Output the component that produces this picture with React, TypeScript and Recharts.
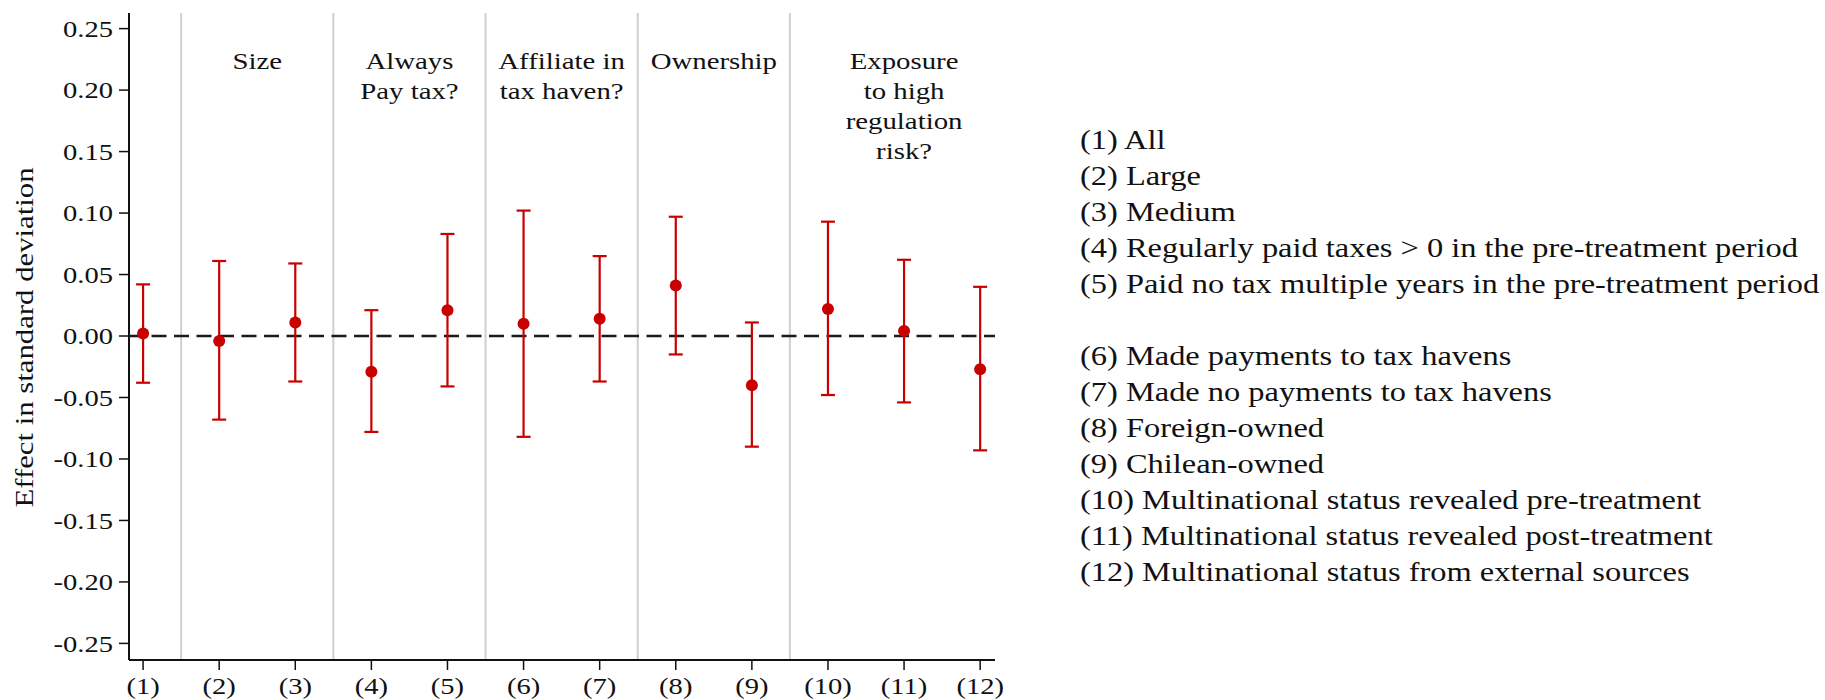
import React from "react";
import {
  ComposedChart,
  Scatter,
  ErrorBar,
  XAxis,
  YAxis,
  ReferenceLine,
} from "recharts";

// estimates and 95% CI bounds
const categories = ["(1)", "(2)", "(3)", "(4)", "(5)", "(6)", "(7)", "(8)", "(9)", "(10)", "(11)", "(12)"];
const estimates = [0.002, -0.004, 0.011, -0.029, 0.021, 0.01, 0.014, 0.041, -0.04, 0.022, 0.004, -0.027];
const upper = [0.042, 0.061, 0.059, 0.021, 0.083, 0.102, 0.065, 0.097, 0.011, 0.093, 0.062, 0.04];
const lower = [-0.038, -0.068, -0.037, -0.078, -0.041, -0.082, -0.037, -0.015, -0.09, -0.048, -0.054, -0.093];

const yTicks = [-0.25, -0.2, -0.15, -0.1, -0.05, 0, 0.05, 0.1, 0.15, 0.2, 0.25];
const separators = [1.5, 3.5, 5.5, 7.5, 9.5];
const groupCenters = [2.5, 4.5, 6.5, 8.5, 11];
const groupLabels = [
  ["Size"],
  ["Always", "Pay tax?"],
  ["Affiliate in", "tax haven?"],
  ["Ownership"],
  ["Exposure", "to high", "regulation", "risk?"],
];

const legendItems = [
  "(1) All",
  "(2) Large",
  "(3) Medium",
  "(4) Regularly paid taxes > 0 in the pre-treatment period",
  "(5) Paid no tax multiple years in the pre-treatment period",
  "",
  "(6) Made payments to tax havens",
  "(7) Made no payments to tax havens",
  "(8) Foreign-owned",
  "(9) Chilean-owned",
  "(10) Multinational status revealed pre-treatment",
  "(11) Multinational status revealed post-treatment",
  "(12) Multinational status from external sources",
];

const data = categories.map((c, i) => ({
  x: i + 1,
  y: estimates[i],
  err: [estimates[i] - lower[i], upper[i] - estimates[i]],
}));

const RED = "#c80000";
const FONT = "Liberation Serif";
const SX = 1.19; // widen Times-like glyphs towards the original schoolbook face
const xDomain = [0.815, 12.195];
const yDomain = [-0.2635, 0.2627];

// text stretched horizontally around its anchor point
const StretchText = ({ x, y, anchor, dy, size, sx, rotate, children }: any) => (
  <g transform={`translate(${x},${y})${rotate ? ` rotate(${rotate})` : ""} scale(${sx},1)`}>
    <text x={0} y={0} dy={dy} textAnchor={anchor} fontFamily={FONT} fontSize={size} fill="#111">
      {children}
    </text>
  </g>
);

const XTick = ({ x, y, payload }: any) => (
  <StretchText x={x} y={y} anchor="middle" dy="0.71em" size={24} sx={SX}>
    {categories[payload.value - 1]}
  </StretchText>
);

const YTick = ({ x, y, payload }: any) => (
  <StretchText x={x} y={y} anchor="end" dy="0.34em" size={24} sx={SX}>
    {payload.value.toFixed(2)}
  </StretchText>
);

const YLabel = ({ viewBox }: any) => {
  const cy = viewBox ? viewBox.y + viewBox.height / 2 : 338;
  return (
    <StretchText x={33} y={cy + 1} anchor="middle" size={25} sx={1.23} rotate={-90}>
      Effect in standard deviation
    </StretchText>
  );
};

const GroupLabel = ({ viewBox, lines }: any) => (
  <g>
    {lines.map((l: string, i: number) => (
      <StretchText key={i} x={viewBox.x} y={viewBox.y + 56 + i * 30} anchor="middle" size={24} sx={1.2}>
        {l}
      </StretchText>
    ))}
  </g>
);

const Dot = (props: any) => <circle cx={props.cx} cy={props.cy} r={6} fill={RED} />;

export default function App() {
  return (
    <div style={{ position: "absolute", left: 0, top: 0, width: 1825, height: 700, background: "#fff" }}>
      <ComposedChart
        width={1825}
        height={700}
        data={data}
        margin={{ top: 13, right: 830, bottom: 0, left: 0 }}
      >
        <XAxis
          dataKey="x"
          type="number"
          domain={xDomain}
          allowDataOverflow
          ticks={categories.map((c, i) => i + 1)}
          interval={0}
          height={40}
          tickSize={10}
          tickMargin={7}
          tick={<XTick />}
          axisLine={{ stroke: "#111", strokeWidth: 2 }}
          tickLine={{ stroke: "#111", strokeWidth: 1.5 }}
        />
        <XAxis
          xAxisId="top"
          orientation="top"
          type="number"
          domain={xDomain}
          allowDataOverflow
          height={0}
          tick={false}
          tickLine={false}
          axisLine={{ stroke: "#222", strokeWidth: 2 }}
        />
        <YAxis
          type="number"
          domain={yDomain}
          allowDataOverflow
          ticks={yTicks}
          interval={0}
          width={129}
          tickSize={10}
          tickMargin={6}
          tick={<YTick />}
          axisLine={{ stroke: "#111", strokeWidth: 2 }}
          tickLine={{ stroke: "#111", strokeWidth: 1.5 }}
          label={(p: any) => <YLabel {...p} />}
        />
        <YAxis
          yAxisId="right"
          orientation="right"
          type="number"
          domain={yDomain}
          allowDataOverflow
          width={0}
          tick={false}
          tickLine={false}
          axisLine={{ stroke: "#222", strokeWidth: 2 }}
        />
        {separators.map((s) => (
          <ReferenceLine key={s} x={s} stroke="#cfcfcf" strokeWidth={2} />
        ))}
        {groupCenters.map((g, i) => (
          <ReferenceLine
            key={"g" + g}
            x={g}
            stroke="none"
            label={(p: any) => <GroupLabel {...p} lines={groupLabels[i]} />}
          />
        ))}
        <ReferenceLine y={0} stroke="#1a1a1a" strokeWidth={2.5} strokeDasharray="15 7.5" />
        <Scatter dataKey="y" shape={<Dot />} isAnimationActive={false}>
          <ErrorBar dataKey="err" direction="y" width={7} stroke={RED} strokeWidth={2.2} />
        </Scatter>
      </ComposedChart>
      <div
        style={{
          position: "absolute",
          left: 1080,
          top: 122,
          fontFamily: "Liberation Serif",
          fontSize: 28,
          lineHeight: "36px",
          color: "#111",
          whiteSpace: "nowrap",
          transform: "scaleX(1.158)",
          transformOrigin: "left top",
        }}
      >
        {legendItems.map((t, i) => (
          <div key={i} style={{ height: 36 }}>
            {t}
          </div>
        ))}
      </div>
    </div>
  );
}
